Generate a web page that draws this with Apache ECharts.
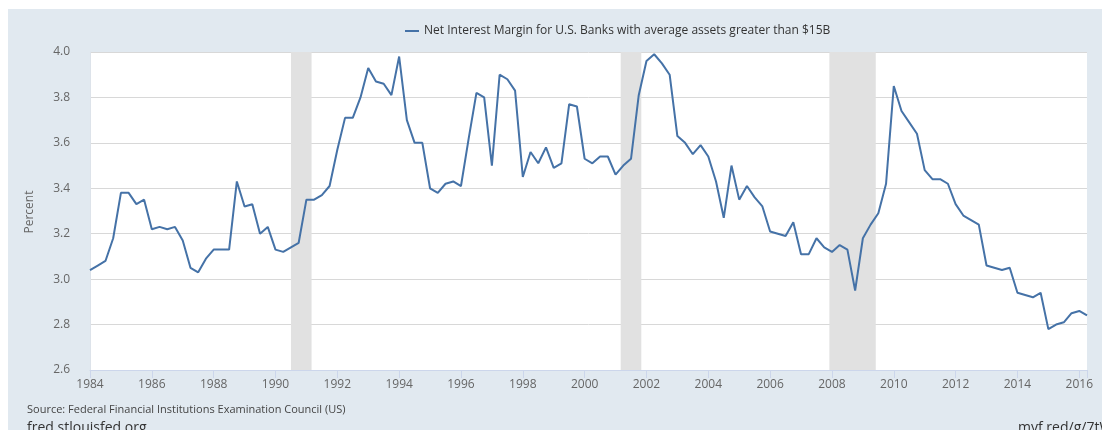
<!DOCTYPE html>
<html>
<head>
<meta charset="utf-8">
<script src="https://cdn.jsdelivr.net/npm/echarts@6/dist/echarts.min.js"></script>
<style>
  html, body { margin: 0; padding: 0; background: #fff; }
  #chart { width: 1102px; height: 430px; }
</style>
</head>
<body>
<div id="chart"></div>
<script>
// quarterly, starting 1984 Q1
var startYear = 1984;
var nimValues = [
    3.04, 3.06, 3.08, 3.18, 3.38, 3.38, 3.33, 3.35, 3.22, 3.23,
    3.22, 3.23, 3.17, 3.05, 3.03, 3.09, 3.13, 3.13, 3.13, 3.43,
    3.32, 3.33, 3.20, 3.23, 3.13, 3.12, 3.14, 3.16, 3.35, 3.35,
    3.37, 3.41, 3.57, 3.71, 3.71, 3.80, 3.93, 3.87, 3.86, 3.81,
    3.98, 3.70, 3.60, 3.60, 3.40, 3.38, 3.42, 3.43, 3.41, 3.62,
    3.82, 3.80, 3.50, 3.90, 3.88, 3.83, 3.45, 3.56, 3.51, 3.58,
    3.49, 3.51, 3.77, 3.76, 3.53, 3.51, 3.54, 3.54, 3.46, 3.50,
    3.53, 3.81, 3.96, 3.99, 3.95, 3.90, 3.63, 3.60, 3.55, 3.59,
    3.54, 3.43, 3.27, 3.50, 3.35, 3.41, 3.36, 3.32, 3.21, 3.20,
    3.19, 3.25, 3.11, 3.11, 3.18, 3.14, 3.12, 3.15, 3.13, 2.95,
    3.18, 3.24, 3.29, 3.42, 3.85, 3.74, 3.69, 3.64, 3.48, 3.44,
    3.44, 3.42, 3.33, 3.28, 3.26, 3.24, 3.06, 3.05, 3.04, 3.05,
    2.94, 2.93, 2.92, 2.94, 2.78, 2.80, 2.81, 2.85, 2.86, 2.84
];
// recessions as [start, end] in decimal years
var recessionStart = [1990.5, 2001.1667, 2007.9167];
var recessionEnd   = [1991.1667, 2001.8333, 2009.4167];
var seriesName = 'Net Interest Margin for U.S. Banks with average assets greater than $15B';

var points = [];
for (var i = 0; i < nimValues.length; i++) {
    points.push([startYear + i * 0.25, nimValues[i]]);
}
var bands = [];
for (var k = 0; k < recessionStart.length; k++) {
    bands.push([{xAxis: recessionStart[k]}, {xAxis: recessionEnd[k]}]);
}

var font = '"Open Sans", "DejaVu Sans", sans-serif';
var chart = echarts.init(document.getElementById('chart'));
var option = {
    backgroundColor: '#ffffff',
    animation: false,
    textStyle: {fontFamily: font},
    graphic: [
        {type: 'rect', left: 8, top: 9, shape: {width: 1094, height: 421}, style: {fill: '#e1e9f0'}, z: -10, silent: true},
        {type: 'text', x: 30, y: 212, rotation: Math.PI / 2,
            style: {text: 'Percent', fill: '#666666', font: '12px ' + font, textAlign: 'center', textVerticalAlign: 'middle'}},
        {type: 'text', x: 27, y: 410,
            style: {text: 'Source: Federal Financial Institutions Examination Council (US)', fill: '#444444', font: '11px ' + font, textVerticalAlign: 'middle'}},
        {type: 'text', x: 27, y: 421,
            style: {text: 'fred.stlouisfed.org', fill: '#333333', font: '14px ' + font, textVerticalAlign: 'top'}},
        {type: 'text', x: 1018, y: 421,
            style: {text: 'myf.red/g/7tWz', fill: '#333333', font: '14px ' + font, textVerticalAlign: 'top'}}
    ],
    legend: {
        left: 400,
        top: 20,
        icon: 'rect',
        itemWidth: 14,
        itemHeight: 2,
        textStyle: {color: '#333333', fontSize: 12, fontFamily: font},
        data: [seriesName]
    },
    grid: {
        left: 90, right: 15, top: 52, bottom: 60,
        show: true, backgroundColor: '#ffffff', borderWidth: 0
    },
    xAxis: {
        type: 'value',
        min: 1984,
        max: 2016.25,
        interval: 2,
        axisLine: {show: true, lineStyle: {color: '#ccd6eb', width: 1}},
        axisTick: {show: true, length: 8, lineStyle: {color: '#ccd6eb'}},
        axisLabel: {
            color: '#666666', fontSize: 12, margin: 9,
            formatter: function (v) { return Math.round(v) === v ? String(v) : ''; }
        },
        splitLine: {show: false}
    },
    yAxis: {
        type: 'value',
        min: 2.6,
        max: 4.0,
        interval: 0.2,
        axisLine: {show: true, lineStyle: {color: '#dde3ea', width: 1}},
        axisTick: {show: false},
        axisLabel: {
            color: '#666666', fontSize: 12, margin: 20,
            formatter: function (v) { return v.toFixed(1); }
        },
        splitLine: {lineStyle: {color: '#d8d8d8', width: 1}}
    },
    series: [{
        name: seriesName,
        type: 'line',
        data: points,
        showSymbol: false,
        symbol: 'none',
        lineStyle: {color: '#4572a7', width: 2},
        itemStyle: {color: '#4572a7'},
        markArea: {
            silent: true,
            itemStyle: {color: '#e1e1e1'},
            data: bands
        }
    }]
};
chart.setOption(option);
</script>
</body>
</html>
